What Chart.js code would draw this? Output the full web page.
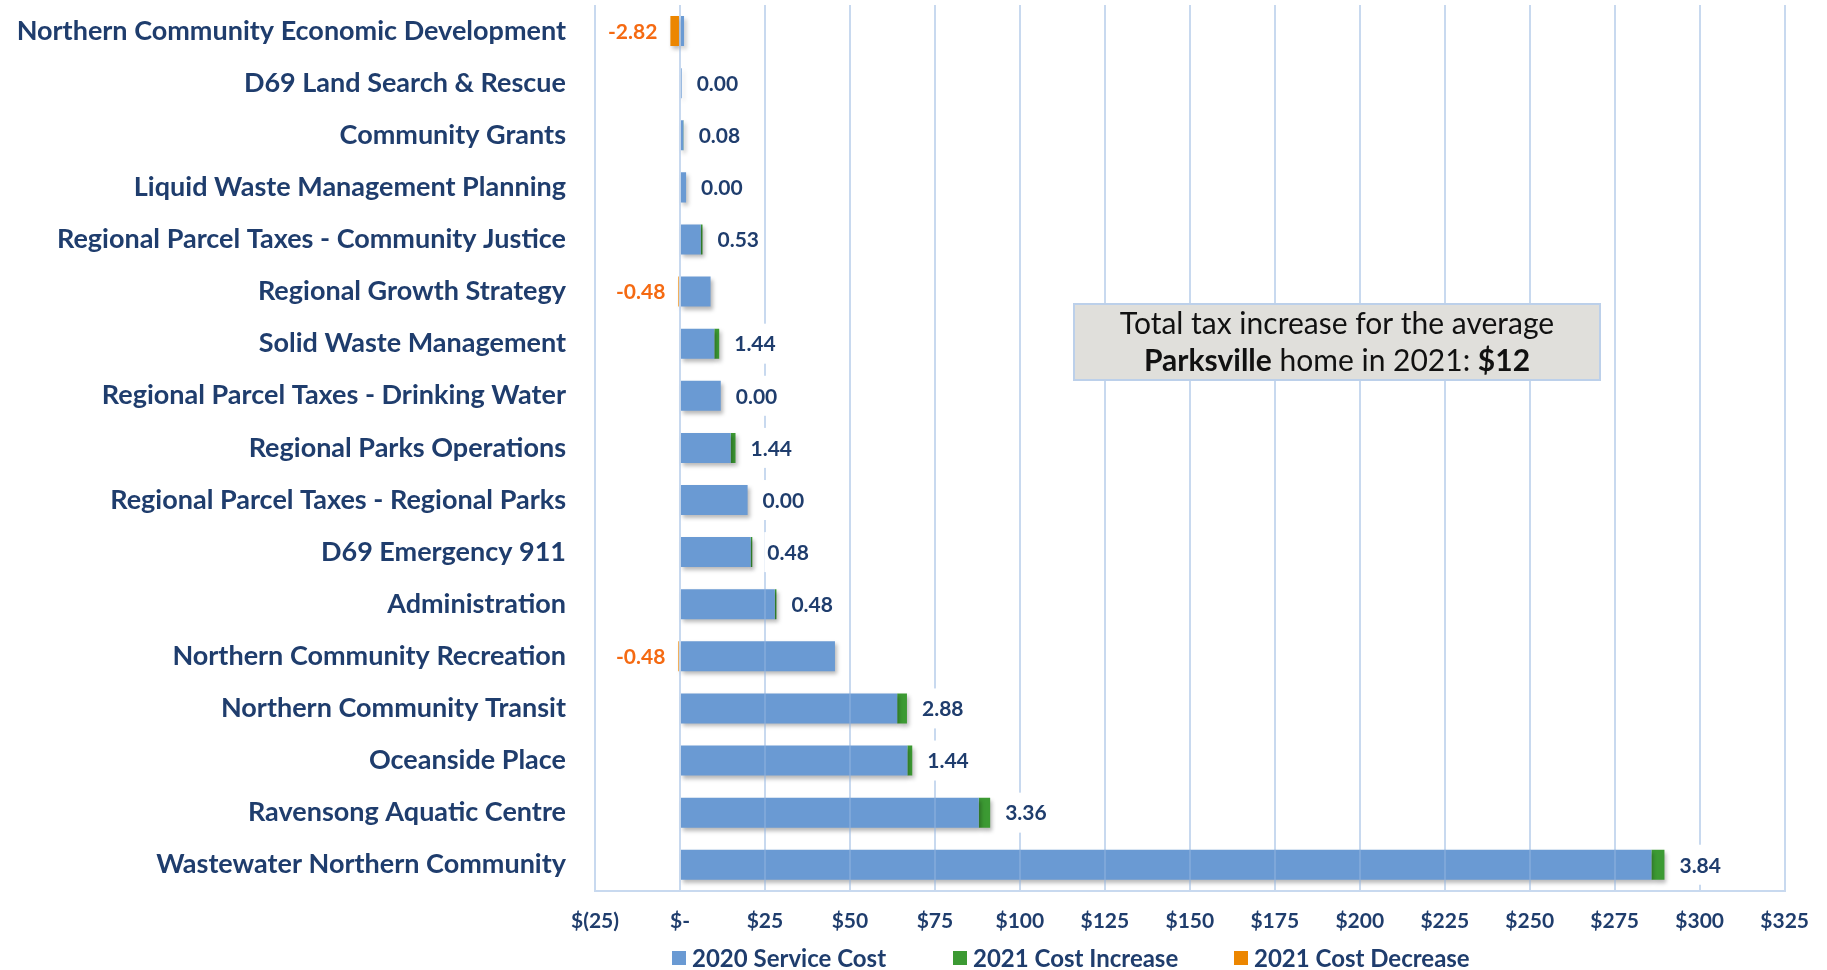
<!DOCTYPE html>
<html>
<head>
<meta charset="utf-8">
<script src="https://cdn.jsdelivr.net/npm/chart.js@4.4.1/dist/chart.umd.min.js"></script>
<style>
  html, body { margin: 0; padding: 0; background: #ffffff; overflow: hidden; }
  #wrap { width: 1827px; height: 970px; position: relative; }
  canvas { display: block; }
</style>
</head>
<body>
<div id="wrap"><canvas id="c" width="1827" height="970" style="width:1827px;height:970px"></canvas></div>
<script>
// ---------------- data ----------------
const categories = [
  'Northern Community Economic Development',
  'D69 Land Search & Rescue',
  'Community Grants',
  'Liquid Waste Management Planning',
  'Regional Parcel Taxes - Community Justice',
  'Regional Growth Strategy',
  'Solid Waste Management',
  'Regional Parcel Taxes - Drinking Water',
  'Regional Parks Operations',
  'Regional Parcel Taxes - Regional Parks',
  'D69 Emergency 911',
  'Administration',
  'Northern Community Recreation',
  'Northern Community Transit',
  'Oceanside Place',
  'Ravensong Aquatic Centre',
  'Wastewater Northern Community'
];
const serviceCost2020 = [1.2, 0.5, 1.0, 1.8, 6.1, 9.0, 10.1, 12.0, 14.9, 19.9, 20.8, 27.9, 45.6, 63.9, 66.9, 87.9, 285.8];
const costIncrease2021 = [0, 0, 0.08, 0, 0.53, 0, 1.44, 0, 1.44, 0, 0.48, 0.48, 0, 2.88, 1.44, 3.36, 3.84];
const costDecrease2021 = [-2.82, 0, 0, 0, 0, -0.48, 0, 0, 0, 0, 0, 0, -0.48, 0, 0, 0, 0];
const seriesNames = ['2020 Service Cost', '2021 Cost Increase', '2021 Cost Decrease'];
const xTickValues = [-25, 0, 25, 50, 75, 100, 125, 150, 175, 200, 225, 250, 275, 300, 325];
const xTickLabels = ['$(25)', '$-', '$25', '$50', '$75', '$100', '$125', '$150', '$175', '$200', '$225', '$250', '$275', '$300', '$325'];
const noteLine1 = [['Total tax increase for the average', false]];
const noteLine2 = [['Parksville', true], [' home in 2021: ', false], ['$12', true]];

// ---------------- style ----------------
const FONT = 'Lato';
const NAVY = '#1F3D6D';
const BLUE = '#6A9AD3';
const GREEN = '#3C9A33';
const ORANGE = '#EC8600';
const ORANGE_TEXT = '#F56A12';

const barShadow = {
  id: 'barShadow',
  beforeDatasetsDraw(chart) {
    const c = chart.ctx;
    c.save();
    c.shadowColor = 'rgba(0,0,0,0.28)';
    c.shadowBlur = 4;
    c.shadowOffsetX = 2;
    c.shadowOffsetY = 3;
  },
  afterDatasetsDraw(chart) { chart.ctx.restore(); }
};

const changeLabels = {
  id: 'changeLabels',
  afterDraw(chart) {
    const c = chart.ctx;
    const incMeta = chart.getDatasetMeta(1);
    const decMeta = chart.getDatasetMeta(2);
    c.save();
    c.font = 'bold 21px ' + FONT;
    c.textBaseline = 'middle';
    categories.forEach((cat, i) => {
      const dec = costDecrease2021[i];
      let el, text, x, align, color;
      if (dec < 0) {
        el = decMeta.data[i];
        text = dec.toFixed(2);
        x = el.x - 13;
        align = 'right';
        color = ORANGE_TEXT;
      } else {
        el = incMeta.data[i];
        text = costIncrease2021[i].toFixed(2);
        x = el.x + 15;
        align = 'left';
        color = NAVY;
      }
      const y = el.y;
      const w = c.measureText(text).width;
      c.fillStyle = '#ffffff';
      const bx = align === 'left' ? x - 3 : x - w - 3;
      c.fillRect(bx, y - 20, w + 6, 40);
      c.fillStyle = color;
      c.textAlign = align;
      c.fillText(text, x, y + 1);
    });
    c.restore();
  }
};

const customLegend = {
  id: 'customLegend',
  afterDraw(chart) {
    const c = chart.ctx;
    c.save();
    c.font = 'bold 24px ' + FONT;
    c.textBaseline = 'middle';
    c.textAlign = 'left';
    const slot = 281;
    const startX = chart.chartArea.left + 77;
    const cy = 958;
    chart.data.datasets.forEach((ds, i) => {
      const x = startX + i * slot;
      c.fillStyle = ds.backgroundColor;
      c.fillRect(x, cy - 7, 14, 14);
      c.fillStyle = NAVY;
      c.fillText(ds.label, x + 20, cy + 1);
    });
    c.restore();
  }
};

const noteBox = {
  id: 'noteBox',
  afterDraw(chart) {
    const c = chart.ctx;
    const left = 1074, top = 304, w = 526, h = 76;
    c.save();
    c.fillStyle = '#E0DFDB';
    c.fillRect(left, top, w, h);
    c.strokeStyle = '#BCD0EA';
    c.lineWidth = 2;
    c.strokeRect(left, top, w, h);
    c.textBaseline = 'middle';
    c.textAlign = 'left';
    c.fillStyle = '#111111';
    const drawLine = (parts, cy) => {
      let total = 0;
      parts.forEach(([t, b]) => { c.font = (b ? 'bold ' : '') + '30px ' + FONT; total += c.measureText(t).width; });
      let x = left + w / 2 - total / 2;
      parts.forEach(([t, b]) => {
        c.font = (b ? 'bold ' : '') + '30px ' + FONT;
        c.fillText(t, x, cy);
        x += c.measureText(t).width;
      });
    };
    drawLine(noteLine1, top + 20);
    drawLine(noteLine2, top + 57);
    c.restore();
  }
};

const chart = new Chart(document.getElementById('c').getContext('2d'), {
  type: 'bar',
  data: {
    labels: categories,
    datasets: [
      { label: seriesNames[0], data: serviceCost2020, backgroundColor: BLUE, borderWidth: 0, barPercentage: 0.576, categoryPercentage: 1 },
      { label: seriesNames[1], data: costIncrease2021, backgroundColor: GREEN, borderWidth: 0, barPercentage: 0.576, categoryPercentage: 1 },
      { label: seriesNames[2], data: costDecrease2021, backgroundColor: ORANGE, borderWidth: 0, barPercentage: 0.576, categoryPercentage: 1 }
    ]
  },
  options: {
    indexAxis: 'y',
    responsive: false,
    animation: false,
    layout: { padding: { top: 5, right: 42, bottom: 18, left: 0 } },
    scales: {
      x: {
        stacked: true,
        min: -25,
        max: 325,
        ticks: {
          stepSize: 25,
          autoSkip: false,
          maxRotation: 0,
          padding: 18,
          color: NAVY,
          font: { family: FONT, size: 21, weight: 'bold' },
          callback: (v) => { const k = xTickValues.indexOf(v); return k >= 0 ? xTickLabels[k] : ''; }
        },
        grid: { color: 'rgba(145,179,224,0.5)', lineWidth: 2, drawTicks: false, z: 1 },
        border: { display: true, color: '#C8D9EF', width: 2, z: 1 }
      },
      y: {
        stacked: true,
        ticks: {
          autoSkip: false,
          padding: 0,
          color: NAVY,
          font: { family: FONT, size: 27, weight: 'bold' }
        },
        grid: { display: false, drawTicks: true, tickLength: 29 },
        border: { display: false },
        afterFit: (s) => { s.width = 595; s.paddingTop = 0; s.paddingBottom = 0; }
      }
    },
    plugins: {
      legend: { display: false },
      tooltip: { enabled: false }
    }
  },
  plugins: [barShadow, changeLabels, customLegend, noteBox]
});
</script>
</body>
</html>
